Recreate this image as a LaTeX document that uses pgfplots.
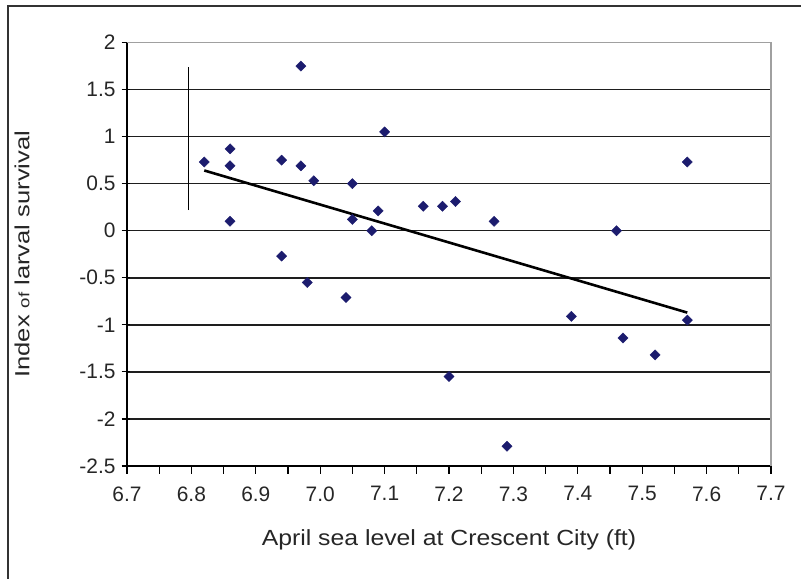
\documentclass[border=0pt]{standalone}
\usepackage{pgfplots}
\pgfplotsset{compat=1.18}
\usepackage{fontspec}
\setmainfont{Liberation Sans}
\newfontfamily\xtitlefont{Liberation Sans}[FakeStretch=1.13]
\newfontfamily\ytitlefont{Liberation Sans}[FakeStretch=1.25]
\definecolor{navyc}{RGB}{28,28,110}
\definecolor{gridc}{RGB}{30,30,30}
\definecolor{frameg}{RGB}{160,160,160}

\pgfplotstableread{
x y
6.82 0.73
6.86 0.87
6.86 0.69
6.86 0.10
6.94 0.75
6.94 -0.27
6.97 1.75
6.97 0.69
6.98 -0.55
6.99 0.53
7.04 -0.71
7.05 0.50
7.05 0.12
7.08 0.00
7.09 0.21
7.10 1.05
7.16 0.26
7.19 0.26
7.20 -1.55
7.21 0.31
7.27 0.10
7.29 -2.29
7.39 -0.91
7.46 0.00
7.47 -1.14
7.52 -1.32
7.57 0.73
7.57 -0.95
}\survival

\begin{document}
\begin{tikzpicture}[x=1bp,y=1bp]
\path[use as bounding box] (0,0) rectangle (801,579);
\draw[line width=1.5bp, black!80] (8,0) -- (8,573) -- (801,573);
\begin{axis}[
  at={(127bp,113bp)}, anchor=south west,
  scale only axis, width=644bp, height=423.5bp,
  xmin=6.7, xmax=7.7, ymin=-2.5, ymax=2,
  xtick={6.7,6.8,6.9,7.0,7.1,7.2,7.3,7.4,7.5,7.6,7.7},
  minor xtick={6.75,6.85,6.95,7.05,7.15,7.25,7.35,7.45,7.55,7.65},
  ytick={-2.5,-2,-1.5,-1,-0.5,0,0.5,1,1.5,2},
  xticklabel style={yshift=-9bp, /pgf/number format/.cd,fixed,fixed zerofill,precision=1},
  yticklabel style={/pgf/number format/.cd,fixed,precision=1},
  /pgf/number format/assume math mode=true,
  ticklabel style={font=\fontsize{21}{24}\selectfont, text=black!85},
  axis x line*=bottom, axis y line*=left,
  tick align=outside,
  major tick length=8bp, minor tick length=8bp,
  y tick style={xshift=2.5bp},
  tick style={black, line width=1.2bp},
  minor tick style={black, line width=1.2bp},
  ymajorgrids,
  major grid style={gridc, line width=1.5bp},
  axis line style={black, line width=1.3bp},
  clip=false,
  xlabel={April sea level at Crescent City (ft)},
  ylabel={Index {\fontsize{15}{18}\selectfont of} larval survival},
  xlabel style={at={(axis description cs:0.5,-0.175)}, anchor=center, font=\xtitlefont\fontsize{22}{26}\selectfont, text=black!85},
  ylabel style={at={(axis description cs:-0.163,0.5)}, anchor=center, font=\ytitlefont\fontsize{20.5}{24}\selectfont, text=black!85},
]
\draw[frameg, line width=1.5bp] (rel axis cs:0,1) -- (rel axis cs:1,1) -- (rel axis cs:1,0);
\addplot[black, line width=1.3bp, forget plot] coordinates {(6.795,0.22) (6.795,1.74)};
\addplot[only marks, mark=square*, mark size=3.6bp, mark options={rotate=45, fill=navyc, draw=navyc}] table[x=x,y=y] {\survival};
\addplot[black, line width=2.6bp] coordinates {(6.82,0.64) (7.57,-0.87)};
\end{axis}
\end{tikzpicture}
\end{document}
